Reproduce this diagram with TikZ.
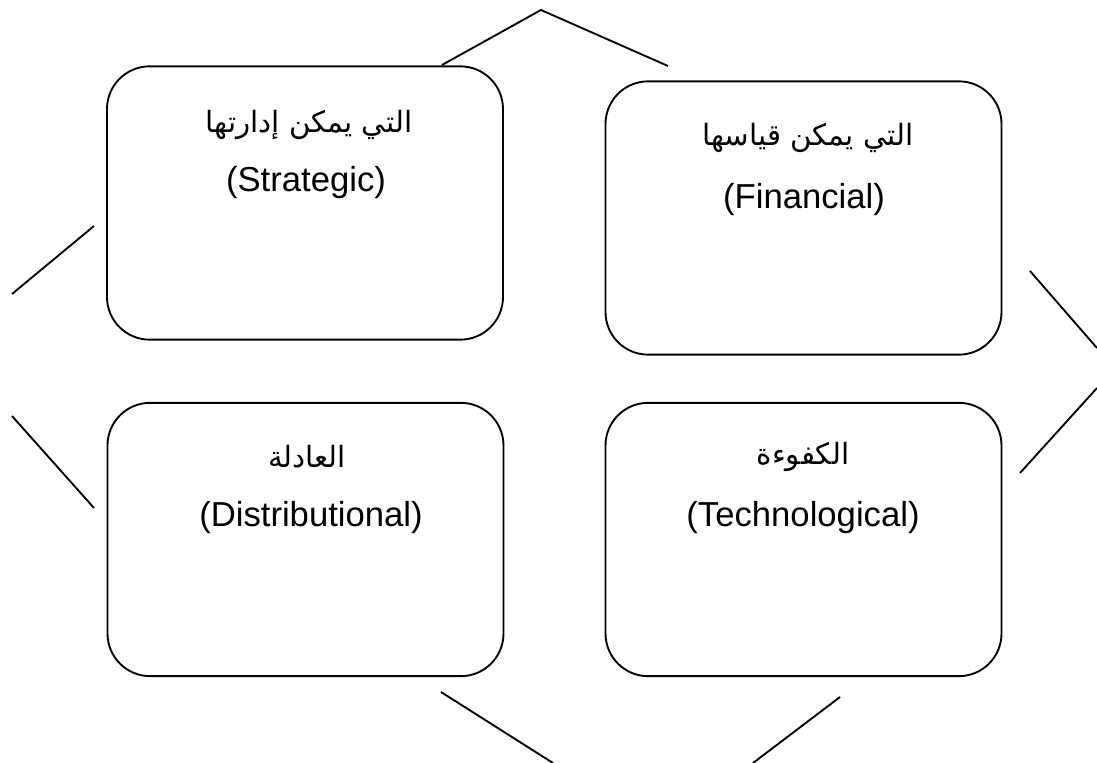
\documentclass[tikz,border=0pt]{standalone}
\usepackage{fontspec}
\setmainfont{Liberation Sans}
\newfontfamily\arabicfont[Script=Arabic]{DejaVu Sans}
\TeXXeTstate=1
\begin{document}
\begin{tikzpicture}[x=0.75pt, y=-0.75pt]
        \tikzstyle{quad} = [draw, line width=1.4pt, rounded corners=32pt, minimum width=297pt, minimum height=205pt, inner sep=0pt]
        \tikzstyle{lab} = [font=\fontsize{26}{30}\selectfont, inner sep=0pt]
        \tikzstyle{arlab} = [font=\arabicfont\fontsize{22}{28}\selectfont, inner sep=0pt]
        \tikzstyle{edge} = [line width=1.4pt]
        \useasboundingbox (0,0) rectangle (1097,763);
        % the four boxes
        \node[quad] (S) at (305,203) {};
        \node[quad] (F) at (803.5,218) {};
        \node[quad] (D) at (305.5,539.5) {};
        \node[quad] (T) at (803.5,539.5) {};
        % labels
        \node[arlab] (Sa) at (309,125) {\beginR التي يمكن إدارتها\endR};
        \node[lab] (Se) at (306,183) {(Strategic)};
        \node[arlab] (Fa) at (808,138) {\beginR التي يمكن قياسها\endR};
        \node[lab] (Fe) at (804,200) {(Financial)};
        \node[arlab] (Da) at (307,457) {\beginR العادلة\endR};
        \node[lab] (De) at (311,518) {(Distributional)};
        \node[arlab] (Ta) at (803,457) {\beginR الكفوءة\endR};
        \node[lab] (Te) at (803,518) {(Technological)};
        % outer chevrons
        \coordinate (top1) at (442,65);
        \coordinate (top2) at (541,10);
        \coordinate (top3) at (668,66);
        \coordinate (lu1) at (94,226);
        \coordinate (lu2) at (12,294);
        \coordinate (ll1) at (12,416);
        \coordinate (ll2) at (94,508);
        \coordinate (ru1) at (1030,271);
        \coordinate (ru2) at (1097,348);
        \coordinate (rl1) at (1097,388);
        \coordinate (rl2) at (1020,473);
        \coordinate (bl1) at (441,692);
        \coordinate (bl2) at (553,763);
        \coordinate (br1) at (753,763);
        \coordinate (br2) at (840,697);
        \draw[edge] (top1) -- (top2) -- (top3);
        \draw[edge] (lu1) -- (lu2);
        \draw[edge] (ll1) -- (ll2);
        \draw[edge] (ru1) -- (ru2);
        \draw[edge] (rl1) -- (rl2);
        \draw[edge] (bl1) -- (bl2);
        \draw[edge] (br1) -- (br2);
      \end{tikzpicture}
\end{document}
